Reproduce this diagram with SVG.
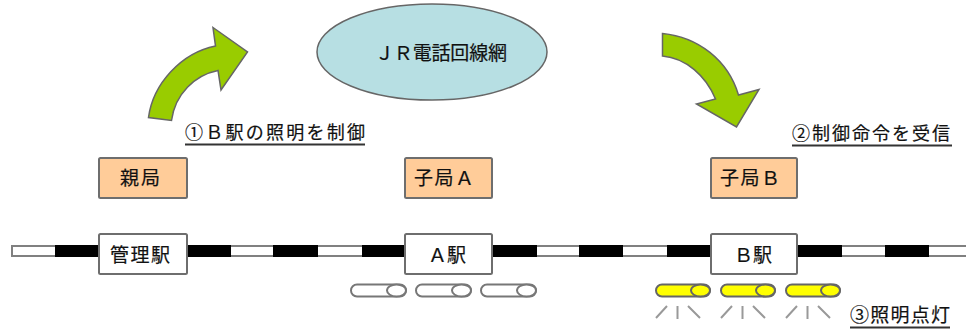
<svg xmlns="http://www.w3.org/2000/svg" width="966" height="331" viewBox="0 0 966 331">
<style>
text{font-family:"Noto Sans CJK JP","Liberation Sans",sans-serif;font-size:19px;fill:#111;stroke:#111;stroke-width:.2}
.box{stroke:#6e6e6e;stroke-width:2}
.sta{fill:#fff}
.tb{fill:#000}
.tw{fill:#fff;stroke:#808080;stroke-width:2}
.lamp{stroke:#777;stroke-width:2}
.lampA{fill:#fff}
.lampB{fill:#ffff00;stroke:#666}
.ray{stroke:#999;stroke-width:2;fill:none}
.ul{stroke:#333;stroke-width:2}
.arrow{fill:#99cc00;stroke:#666;stroke-width:1.5;stroke-linejoin:miter}
</style>
<rect width="966" height="331" fill="#fff"/>

<g id="connectors">
  <rect class="tw" x="12" y="246" width="960" height="10"/>
  <rect class="tb" x="55" y="245" width="44" height="12"/>
  <rect class="tb" x="187" y="245" width="44" height="12"/>
  <rect class="tb" x="273" y="245" width="45" height="12"/>
  <rect class="tb" x="362" y="245" width="43" height="12"/>
  <rect class="tb" x="492" y="245" width="45" height="12"/>
  <rect class="tb" x="579" y="245" width="44" height="12"/>
  <rect class="tb" x="667" y="245" width="44" height="12"/>
  <rect class="tb" x="797" y="245" width="45" height="12"/>
  <rect class="tb" x="885" y="245" width="44" height="12"/>
</g>

<g id="network">
  <ellipse cx="432" cy="52" rx="115" ry="48" fill="#b7dfe3" stroke="#666" stroke-width="1.500"/>
  <text x="375" y="60" textLength="132">ＪＲ電話回線網</text>
</g>

<g id="arrow-control">
  <path class="arrow" d="M148.500 117.500C153 84 181 53 215.500 46L213 27.500L247.500 52L221 90L218 70.500C195 75 175 94 171.500 120.500Z"/>
  <text x="185" y="139" textLength="180" font-size="18" style="font-size:18px">①Ｂ駅の照明を制御</text>
  <line class="ul" x1="185" y1="144.500" x2="365" y2="144.500"/>
</g>

<g id="arrow-receive">
  <path class="arrow" d="M662.500 33.500C698 37 728 60 738.500 95L759 89.500L736.500 127L696.500 104L715.500 99C706 76 686 58 662.500 56Z"/>
  <text x="792" y="140" textLength="158" style="font-size:18px">②制御命令を受信</text>
  <line class="ul" x1="792" y1="145.500" x2="952" y2="145.500"/>
</g>

<g id="master">
  <rect class="box" x="99" y="158" width="88" height="40" rx="1.500" fill="#ffcc99"/>
  <text x="120" y="185" textLength="40">親局</text>
</g>
<g id="slave-a">
  <rect class="box" x="405" y="158" width="87" height="40" rx="1.500" fill="#ffcc99"/>
  <text x="414" y="185" textLength="60">子局Ａ</text>
</g>
<g id="slave-b">
  <rect class="box" x="711" y="158" width="86" height="40" rx="1.500" fill="#ffcc99"/>
  <text x="720" y="185" textLength="60">子局Ｂ</text>
</g>

<g id="station-main">
  <rect class="box sta" x="99" y="234" width="88" height="40" rx="1.500"/>
  <text x="110" y="262" textLength="60">管理駅</text>
</g>
<g id="station-a">
  <rect class="box sta" x="405" y="234" width="87" height="40" rx="1.500"/>
  <text x="428" y="262" textLength="38">Ａ駅</text>
</g>
<g id="station-b">
  <rect class="box sta" x="711" y="234" width="86" height="40" rx="1.500"/>
  <text x="734" y="262" textLength="38">Ｂ駅</text>
</g>

<g id="lamps-a">
  <rect class="lamp lampA" x="351" y="284.500" width="55" height="12" rx="6"/><ellipse class="lamp lampA" cx="396.500" cy="290.500" rx="9.500" ry="6"/>
  <rect class="lamp lampA" x="416" y="284.500" width="55" height="12" rx="6"/><ellipse class="lamp lampA" cx="461.500" cy="290.500" rx="9.500" ry="6"/>
  <rect class="lamp lampA" x="481" y="284.500" width="55" height="12" rx="6"/><ellipse class="lamp lampA" cx="526.500" cy="290.500" rx="9.500" ry="6"/>
</g>

<g id="lamps-b">
  <rect class="lamp lampB" x="656" y="284.500" width="54" height="12" rx="6"/><ellipse class="lamp lampB" cx="700.500" cy="290.500" rx="9.500" ry="6"/>
  <rect class="lamp lampB" x="721" y="284.500" width="54" height="12" rx="6"/><ellipse class="lamp lampB" cx="765.500" cy="290.500" rx="9.500" ry="6"/>
  <rect class="lamp lampB" x="786" y="284.500" width="54" height="12" rx="6"/><ellipse class="lamp lampB" cx="830.500" cy="290.500" rx="9.500" ry="6"/>
  <path class="ray" d="M667 306L656 318M677.500 306V319M688 306L700 318M732 306L721 318M742.500 306V319M753 306L765 318M797 306L786 318M807.500 306V319M818 306L830 318"/>
  <text x="850" y="322" textLength="100">③照明点灯</text>
  <line class="ul" x1="850" y1="327.500" x2="950" y2="327.500"/>
</g>
</svg>
